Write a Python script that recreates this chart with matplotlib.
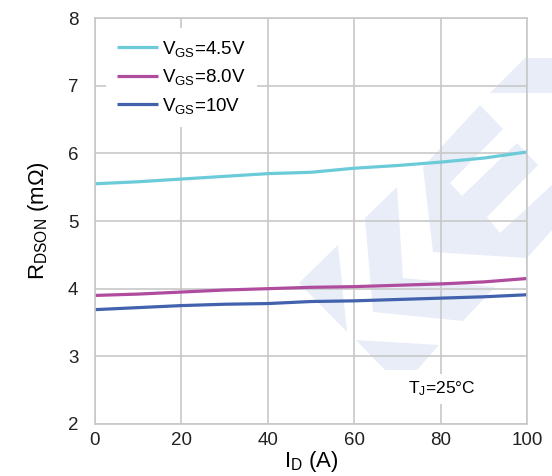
import numpy as np
import matplotlib
matplotlib.use('Agg')
import matplotlib.pyplot as plt
from matplotlib.patches import Polygon

plt.rcParams['font.family'] = ['Liberation Sans', 'DejaVu Sans']
plt.rcParams['mathtext.fontset'] = 'custom'
plt.rcParams['mathtext.rm'] = 'Liberation Sans'
plt.rcParams['mathtext.it'] = 'Liberation Sans'

# drain current (A) and on-resistance (mOhm) for each gate voltage
id_a = [0, 10, 20, 30, 40, 50, 60, 70, 80, 90, 100]
r_vgs45 = [5.55, 5.58, 5.62, 5.66, 5.70, 5.72, 5.78, 5.82, 5.87, 5.93, 6.02]
r_vgs80 = [3.90, 3.92, 3.95, 3.98, 4.00, 4.02, 4.03, 4.05, 4.07, 4.10, 4.15]
r_vgs10 = [3.69, 3.72, 3.75, 3.77, 3.78, 3.81, 3.82, 3.84, 3.86, 3.88, 3.91]
labels = [r'V$_{\mathrm{GS}}$=4.5V', r'V$_{\mathrm{GS}}$=8.0V', r'V$_{\mathrm{GS}}$=10V']
colors = ['#6ccbd8', '#b04c9e', '#4262ad']

W, H = 552, 476
fig = plt.figure(figsize=(W / 100, H / 100), dpi=100)
ax = fig.add_axes([95 / W, 1 - 424 / H, 432 / W, 406 / H])
ax.set_facecolor('none')

# background logo (pixel outlines)
logo = [
    [(338, 245), (299, 283), (347, 332)],
    [(356, 340), (439, 345), (417, 370), (385, 370)],
    [(397, 187), (365, 218), (373, 312), (463, 321), (495, 287), (403, 278)],
    [(423, 167), (480, 105), (503, 129), (450, 183), (462, 196), (517, 143),
     (538, 165), (487, 217), (500, 233), (552, 185), (552, 230), (527, 258),
     (433, 252)],
    [(490, 93), (525, 58), (552, 58), (552, 93)],
]
for pts in logo:
    fp = [(x / W, 1 - y / H) for x, y in pts]
    fig.patches.append(Polygon(fp, closed=True, transform=fig.transFigure,
                               facecolor='#e8edf8', edgecolor='none', zorder=-1))

for ys, lab, c in zip([r_vgs45, r_vgs80, r_vgs10], labels, colors):
    ax.plot(id_a, ys, color=c, lw=2.3, label=lab, solid_capstyle='butt')

ax.set_xlim(0, 100)
ax.set_ylim(2, 8)
ax.set_xticks(np.arange(0, 101, 20))
ax.set_yticks(np.arange(2, 9, 1))
ax.grid(True, color='#c8c8c8', lw=1.2)
ax.set_axisbelow(True)
for s in ax.spines.values():
    s.set_color('#c8c8c8')
    s.set_linewidth(1.2)
ax.tick_params(length=0, labelsize=13.5, colors='#222222')
ax.tick_params(axis='y', pad=12)
ax.tick_params(axis='x', pad=6)

ax.set_xlabel(r'I$_{\mathrm{D}}$ (A)', fontsize=16, labelpad=0)
ax.set_ylabel(r'R$_{\mathrm{DSON}}$ (m$\Omega$)', fontsize=16, labelpad=12)

leg = ax.legend(loc='upper left', bbox_to_anchor=(0.003, 0.999), fontsize=13.5,
                frameon=True, facecolor='white', edgecolor='none', framealpha=1,
                fancybox=False, handlelength=2.2, handletextpad=0.2,
                labelspacing=0.45, borderpad=0.6)

ax.text(80.2, 2.52, r'T$_{\mathrm{J}}$=25°C', fontsize=12.5, ha='center', va='center',
        bbox=dict(facecolor='white', edgecolor='none', pad=4))

fig.savefig('out.png', dpi=100)
